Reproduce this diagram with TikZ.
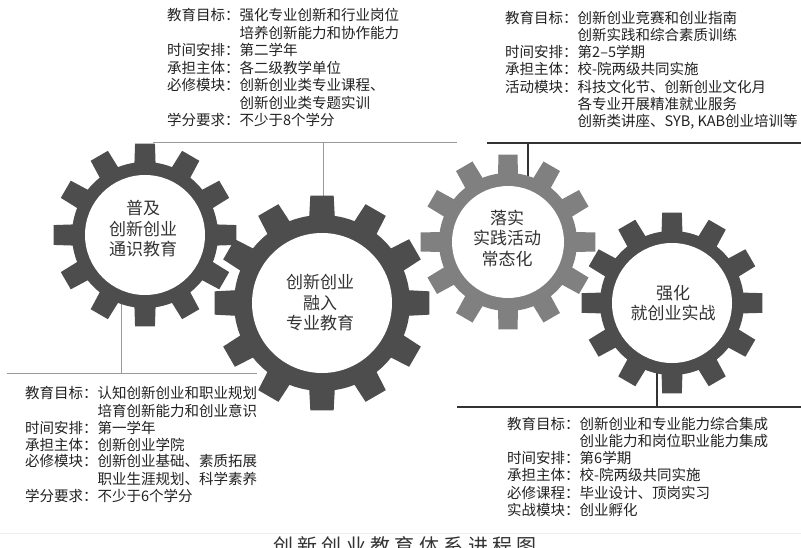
\documentclass[tikz,border=0pt]{standalone}
\usepackage{fontspec}
\setmainfont{Noto Sans CJK SC}
\usepackage{tikz}
\usetikzlibrary{calc}
\definecolor{geardark}{HTML}{4D4D4D}
\definecolor{gearlight}{HTML}{808080}
\definecolor{textdark}{HTML}{222222}
% centre, tip radius, body radius, hole radius, colour
\newcommand{\drawgear}[5]{%
  \begin{scope}[shift={#1}]
    \fill[#5] (0,0) circle (#3);
    \foreach \a in {0,30,...,330}
      \fill[#5] ({\a-8.6}:{#3-2}) -- ({\a-6.2}:#2) -- ({\a+6.2}:#2) -- ({\a+8.6}:{#3-2}) -- cycle;
    \fill[white] (0,0) circle (#4);
  \end{scope}}
\newcommand{\capgap}{\hspace{4.4pt}}

\begin{document}
\begin{tikzpicture}[x=1pt,y=-1pt,
    geartext/.style={align=center,text=black!80,font=\fontsize{17}{20.5}\selectfont},
    infoblock/.style={anchor=north west,inner sep=0pt,text=textdark},
    lightline/.style={draw=black!40,line width=0.8pt},
    darkline/.style={draw=black!80,line width=1.2pt}]
    \fill[white] (0,0) rectangle (801,548);
    \useasboundingbox (0,0) rectangle (801,548);
    \coordinate (TLa) at (153,142);
    \coordinate (TLb) at (457,142);
    \coordinate (TRa) at (487,143);
    \coordinate (TRb) at (801,143);
    \coordinate (BLa) at (7,373);
    \coordinate (BLb) at (257,373);
    \coordinate (BRa) at (457,407);
    \coordinate (BRb) at (801,407);
    \coordinate (G1tap) at (121,300);
    \coordinate (G2tap) at (323,200);
    \coordinate (G3tap) at (528,180);
    \coordinate (G4tap) at (657,370);
    \draw[lightline] (TLa)--(TLb);
    \draw[darkline] (TRa)--(TRb);
    \draw[lightline] (BLa)--(BLb);
    \draw[darkline] (BRa)--(BRb);
    \draw[lightline] (G2tap)--(G2tap |- TLa);
    \draw[darkline] (G3tap)--(G3tap |- TRa);
    \draw[lightline] (G1tap)--(G1tap |- BLa);
    \draw[darkline] (G4tap)--(G4tap |- BRa);
    \draw[black!7] (0,533)--(801,533);
    \drawgear{(145,235)}{92}{73}{60}{geardark}
    \drawgear{(322,303)}{108}{88}{70}{geardark}
    \drawgear{(508,242)}{88}{69}{56}{gearlight}
    \drawgear{(672,303)}{91}{72}{60}{geardark}
    \node[geartext] (g1) at (143,229) {普及\\创新创业\\通识教育};
    \node[geartext] (g2) at (320,303) {创新创业\\融入\\专业教育};
    \node[geartext] (g3) at (507,238) {落实\\实践活动\\常态化};
    \node[geartext] (g4) at (673,303) {强化\\就创业实战};
    \node[infoblock,font=\fontsize{14.5}{17.3}\selectfont] (tlinfo) at (167,8.4) {\begin{tabular}{@{}l@{}l@{}}
      教育目标：& 强化专业创新和行业岗位\\
      & 培养创新能力和协作能力\\
      时间安排：& 第二学年\\
      承担主体：& 各二级教学单位\\
      必修模块：& 创新创业类专业课程、\\
      & 创新创业类专题实训\\
      学分要求：& 不少于8个学分
    \end{tabular}};
    \node[infoblock,font=\fontsize{14.5}{15.8}\selectfont] (trinfo) at (505,11.4) {\begin{tabular}{@{}l@{}l@{}}
      教育目标：& 创新创业竞赛和创业指南\\
      & 创新实践和综合素质训练\\
      时间安排：& 第2–5学期\\
      承担主体：& 校-院两级共同实施\\
      活动模块：& 科技文化节、创新创业文化月\\
      & 各专业开展精准就业服务\\
      & 创新类讲座、SYB, KAB创业培训等
    \end{tabular}};
    \node[infoblock,font=\fontsize{14.5}{15.7}\selectfont] (blinfo) at (25,386.5) {\begin{tabular}{@{}l@{}l@{}}
      教育目标：& 认知创新创业和职业规划\\
      & 培育创新能力和创业意识\\
      时间安排：& 第一学年\\
      承担主体：& 创新创业学院\\
      必修模块：& 创新创业基础、素质拓展\\
      & 职业生涯规划、科学素养\\
      学分要求：& 不少于6个学分
    \end{tabular}};
    \node[infoblock,font=\fontsize{14.5}{15.8}\selectfont] (brinfo) at (507,417.4) {\begin{tabular}{@{}l@{}l@{}}
      教育目标：& 创新创业和专业能力综合集成\\
      & 创业能力和岗位职业能力集成\\
      时间安排：& 第6学期\\
      承担主体：& 校-院两级共同实施\\
      必修课程：& 毕业设计、顶岗实习\\
      实战模块：& 创业孵化
    \end{tabular}};
    \node[anchor=base,inner sep=0pt,text=black!80,font=\fontsize{20}{24}\selectfont] (caption) at (405,553.6)
      {创\capgap 新\capgap 创\capgap 业\capgap 教\capgap 育\capgap 体\capgap 系\capgap 进\capgap 程\capgap 图};
  \end{tikzpicture}
\end{document}
